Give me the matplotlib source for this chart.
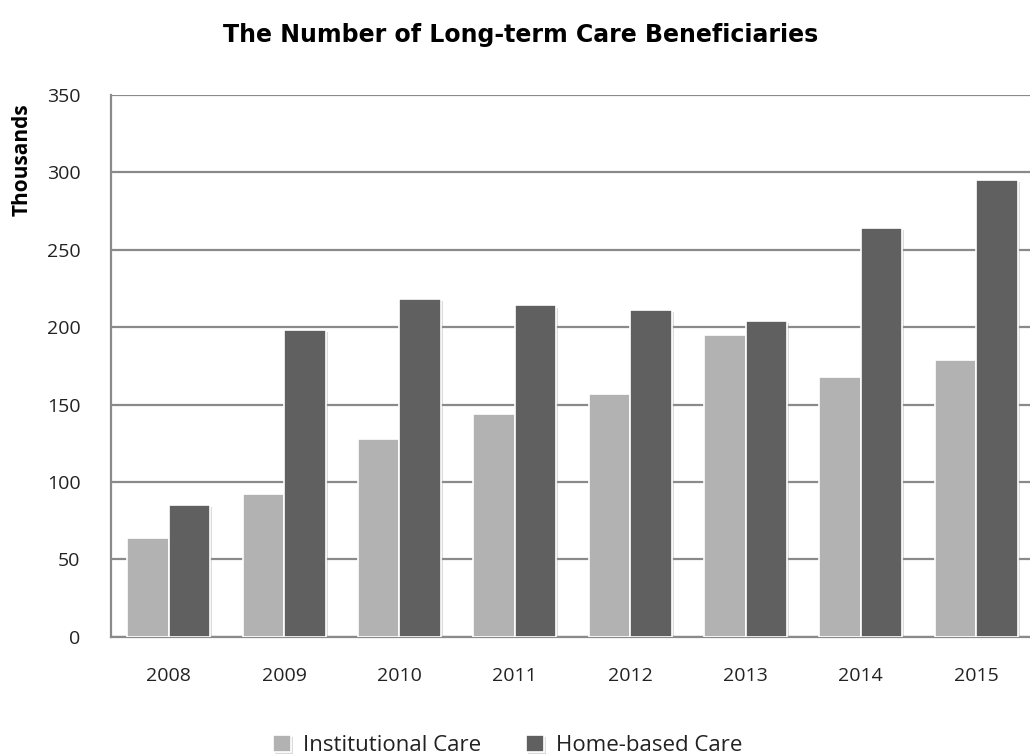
import numpy as np
import matplotlib.pyplot as plt
import matplotlib.patheffects as pe

plt.rcParams['font.family'] = ['Open Sans', 'DejaVu Sans']

years = ['2008', '2009', '2010', '2011', '2012', '2013', '2014', '2015']
institutional = [64, 92, 128, 144, 157, 195, 168, 179]
home_based = [85, 198, 218, 214, 211, 204, 264, 295]

c_inst = '#b2b2b2'
c_home = '#606060'
grid_c = '#8a8a8a'

fig = plt.figure(figsize=(10.30, 7.54), dpi=100)
ax = fig.add_axes([0.1078, 0.1556, 0.896, 0.7184])

x = np.arange(len(years))
w = 0.36
shadow = [pe.SimplePatchShadow(offset=(1.5, -1.5), shadow_rgbFace='#999999', alpha=0.35), pe.Normal()]
b1 = ax.bar(x - w / 2, institutional, w, color=c_inst, edgecolor='white', linewidth=1.2,
            label='Institutional Care', zorder=3)
b2 = ax.bar(x + w / 2, home_based, w, color=c_home, edgecolor='white', linewidth=1.2,
            label='Home-based Care', zorder=3)
for bars in (b1, b2):
    for p in bars:
        p.set_path_effects(shadow)

ax.set_xlim(-0.5, len(years) - 0.5)
ax.set_ylim(0, 350)
ax.set_yticks(np.arange(0, 351, 50))
ax.set_xticks(x)
ax.set_xticklabels(years)
ax.grid(axis='y', color=grid_c, linewidth=1.6, zorder=0)
ax.set_axisbelow(True)

for s in ['top', 'right']:
    ax.spines[s].set_visible(False)
for s in ['left', 'bottom']:
    ax.spines[s].set_color(grid_c)
    ax.spines[s].set_linewidth(1.6)

ax.tick_params(axis='both', length=0, labelsize=14, colors='#222222')
ax.tick_params(axis='y', pad=22)
ax.tick_params(axis='x', pad=22)

ax.set_ylabel('Thousands', fontsize=15, fontweight='bold')
ax.yaxis.set_label_coords(-0.085, 0.88)

fig.suptitle('The Number of Long-term Care Beneficiaries', fontsize=17, fontweight='bold',
             family=['DejaVu Sans'], x=0.505, y=0.97)

leg = fig.legend(loc='lower center', bbox_to_anchor=(0.493, -0.029), ncol=2, frameon=False,
                 fontsize=16, handlelength=0.8, handleheight=0.8, columnspacing=2.0,
                 handletextpad=0.55)
for t in leg.get_texts():
    t.set_color('#222222')

fig.savefig('out.png', dpi=100)
